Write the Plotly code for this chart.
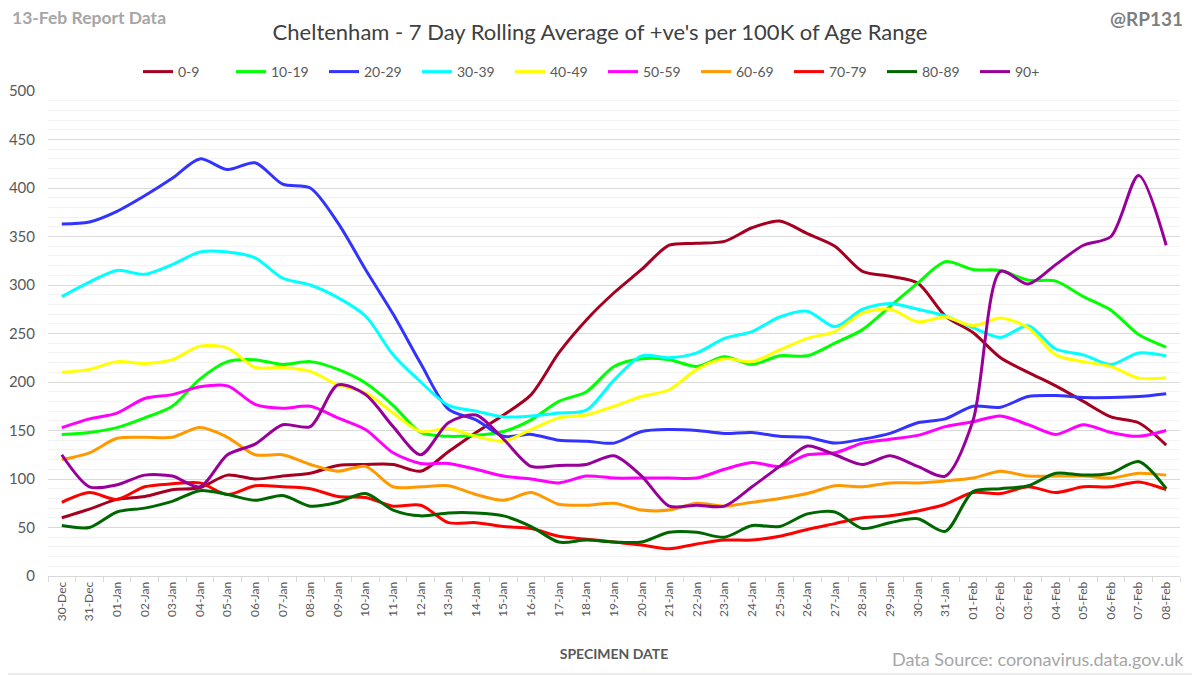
import plotly.graph_objects as go

dates = ["30-Dec", "31-Dec"] + [f"{d:02d}-Jan" for d in range(1, 32)] + [f"{d:02d}-Feb" for d in range(1, 9)]

age_groups = ["0-9", "10-19", "20-29", "30-39", "40-49", "50-59", "60-69", "70-79", "80-89", "90+"]
colors = ["#A50021", "#00FF00", "#3333FF", "#00FFFF", "#FFFF00", "#FF00FF", "#FF9900", "#FF0000", "#006600", "#990099"]

v_0_9 = [60, 69, 79, 82, 89, 91, 104, 100, 103, 106, 114, 115, 115, 108, 128, 148, 166, 187, 230, 264,
         292, 316, 341, 343, 345, 359, 366, 353, 340, 314, 309, 302, 268, 251, 225, 210, 196, 180, 164, 158, 135]
v_10_19 = [146, 148, 153, 163, 175, 203, 221, 223, 218, 221, 213, 199, 176, 148, 144, 145, 149, 161, 180, 190,
           216, 224, 223, 216, 226, 218, 227, 227, 240, 254, 278, 302, 324, 316, 315, 305, 304, 288, 274, 249, 236]
v_20_29 = [363, 365, 376, 392, 410, 430, 419, 426, 404, 400, 364, 316, 270, 219, 172, 161, 144, 146, 140, 139,
           137, 149, 151, 150, 147, 148, 144, 143, 137, 141, 147, 158, 162, 175, 174, 185, 186, 184, 184, 185, 188]
v_30_39 = [288, 303, 315, 311, 321, 334, 334, 328, 307, 300, 287, 268, 228, 200, 176, 170, 164, 165, 168, 171,
           202, 227, 225, 230, 245, 252, 267, 273, 257, 275, 281, 275, 268, 256, 246, 258, 234, 228, 218, 230, 227]
v_40_49 = [210, 213, 221, 219, 223, 237, 235, 215, 215, 211, 197, 189, 168, 149, 152, 144, 139, 151, 163, 166,
           175, 185, 192, 213, 224, 221, 233, 245, 252, 271, 275, 262, 267, 258, 266, 256, 228, 221, 216, 204, 204]
v_50_59 = [153, 162, 168, 183, 187, 195, 196, 177, 173, 175, 163, 151, 127, 116, 116, 110, 103, 100, 96, 103,
           101, 101, 101, 101, 110, 117, 113, 125, 127, 137, 141, 145, 154, 159, 165, 156, 146, 156, 148, 144, 150]
v_60_69 = [120, 127, 142, 143, 143, 153, 143, 125, 125, 115, 108, 113, 92, 92, 93, 84, 78, 86, 74, 73,
           75, 68, 68, 75, 72, 76, 80, 85, 93, 92, 96, 96, 98, 101, 108, 103, 103, 103, 101, 106, 104]
v_70_79 = [76, 86, 79, 92, 95, 96, 84, 93, 92, 90, 82, 81, 72, 73, 55, 55, 51, 49, 41, 38,
           35, 32, 28, 33, 37, 37, 41, 48, 54, 60, 62, 67, 74, 86, 85, 92, 86, 92, 92, 97, 89]
v_80_89 = [52, 50, 66, 70, 77, 88, 84, 78, 83, 72, 76, 85, 68, 62, 65, 65, 62, 51, 35, 37,
           35, 35, 45, 45, 40, 52, 51, 64, 66, 49, 55, 59, 46, 87, 90, 93, 106, 104, 106, 118, 90]
v_90p = [125, 92, 94, 104, 103, 92, 125, 136, 156, 154, 197, 187, 154, 125, 158, 166, 141, 113, 114, 115,
         124, 103, 72, 73, 72, 92, 113, 134, 125, 115, 124, 113, 103, 160, 314, 301, 321, 341, 350, 413, 341]

series = [v_0_9, v_10_19, v_20_29, v_30_39, v_40_49, v_50_59, v_60_69, v_70_79, v_80_89, v_90p]

FONT = "Lato"
fig = go.Figure()
for name, col, vals in zip(age_groups, colors, series):
    fig.add_trace(go.Scatter(
        x=dates, y=vals, name=name, mode="lines",
        line=dict(color=col, width=3, shape="spline", smoothing=0.8),
    ))

# The page body adds an 8px offset; work in reference-pixel coordinates shifted by OFF.
OFF = 8
W, H = 1200 - OFF, 675 - OFF
L = 48 - OFF
T = 91 - OFF
R = W - (1180 - OFF)
B = H - (576 - OFF)
pw = W - L - R
ph = H - T - B


def px(xr):
    return (xr - OFF - L) / pw


def py(yr):
    return 1 - (yr - OFF - T) / ph


fig.update_layout(
    width=W, height=H,
    margin=dict(l=L, r=R, t=T, b=B, autoexpand=False),
    paper_bgcolor="white", plot_bgcolor="white",
    font=dict(family=FONT, color="#595959"),
    title=dict(text="Cheltenham - 7 Day Rolling Average of +ve's per 100K of Age Range",
               x=px(600), xref="paper", xanchor="center", y=1 - (32 - OFF) / H, yanchor="middle",
               font=dict(size=22, color="#404040", family=FONT)),
    showlegend=True,
    legend=dict(orientation="h", x=px(603), xanchor="center", y=py(72), yanchor="middle",
                font=dict(size=14, color="#595959", family=FONT),
                entrywidth=48, entrywidthmode="pixels", itemwidth=30, bgcolor="rgba(0,0,0,0)"),
    xaxis=dict(type="category", range=[-0.5, len(dates) - 0.5], tickangle=-90,
               tickfont=dict(size=12, color="#595959", family=FONT),
               showgrid=False, showline=True, linecolor="#d9d9d9", linewidth=1,
               ticks="outside", tickson="boundaries", ticklen=5, tickcolor="#d9d9d9",
               title=dict(text="<b>SPECIMEN DATE</b>", font=dict(size=14, color="#595959", family=FONT), standoff=28)),
    yaxis=dict(range=[0, 500], dtick=50, tick0=0, showgrid=True, gridcolor="#d9d9d9", gridwidth=1,
               tickfont=dict(size=15, color="#595959", family=FONT), zeroline=False, showline=False,
               ticks="", ticklen=0, ticklabelstandoff=12,
               minor=dict(dtick=10, showgrid=True, gridcolor="#f2f2f2", gridwidth=1)),
)

fig.add_annotation(text="<b>13-Feb Report Data</b>", xref="paper", yref="paper",
                   x=px(10), y=py(17), xanchor="left", yanchor="middle",
                   showarrow=False, font=dict(size=17.5, color="#a6a6a6", family=FONT))
fig.add_annotation(text="<b>@RP131</b>", xref="paper", yref="paper",
                   x=px(1185), y=py(18), xanchor="right", yanchor="middle",
                   showarrow=False, font=dict(size=19, color="#7f7f7f", family=FONT))
fig.add_annotation(text="Data Source: coronavirus.data.gov.uk", xref="paper", yref="paper",
                   x=px(1186), y=py(659), xanchor="right", yanchor="middle",
                   showarrow=False, font=dict(size=18, color="#a6a6a6", family=FONT))

# chart border (right and bottom edges visible within the page)
fig.add_shape(type="rect", xref="paper", yref="paper",
              x0=px(-20), x1=px(1199), y0=py(674), y1=py(-20),
              line=dict(color="#d9d9d9", width=1), fillcolor="rgba(0,0,0,0)", layer="below")

fig.write_html("out.html")
